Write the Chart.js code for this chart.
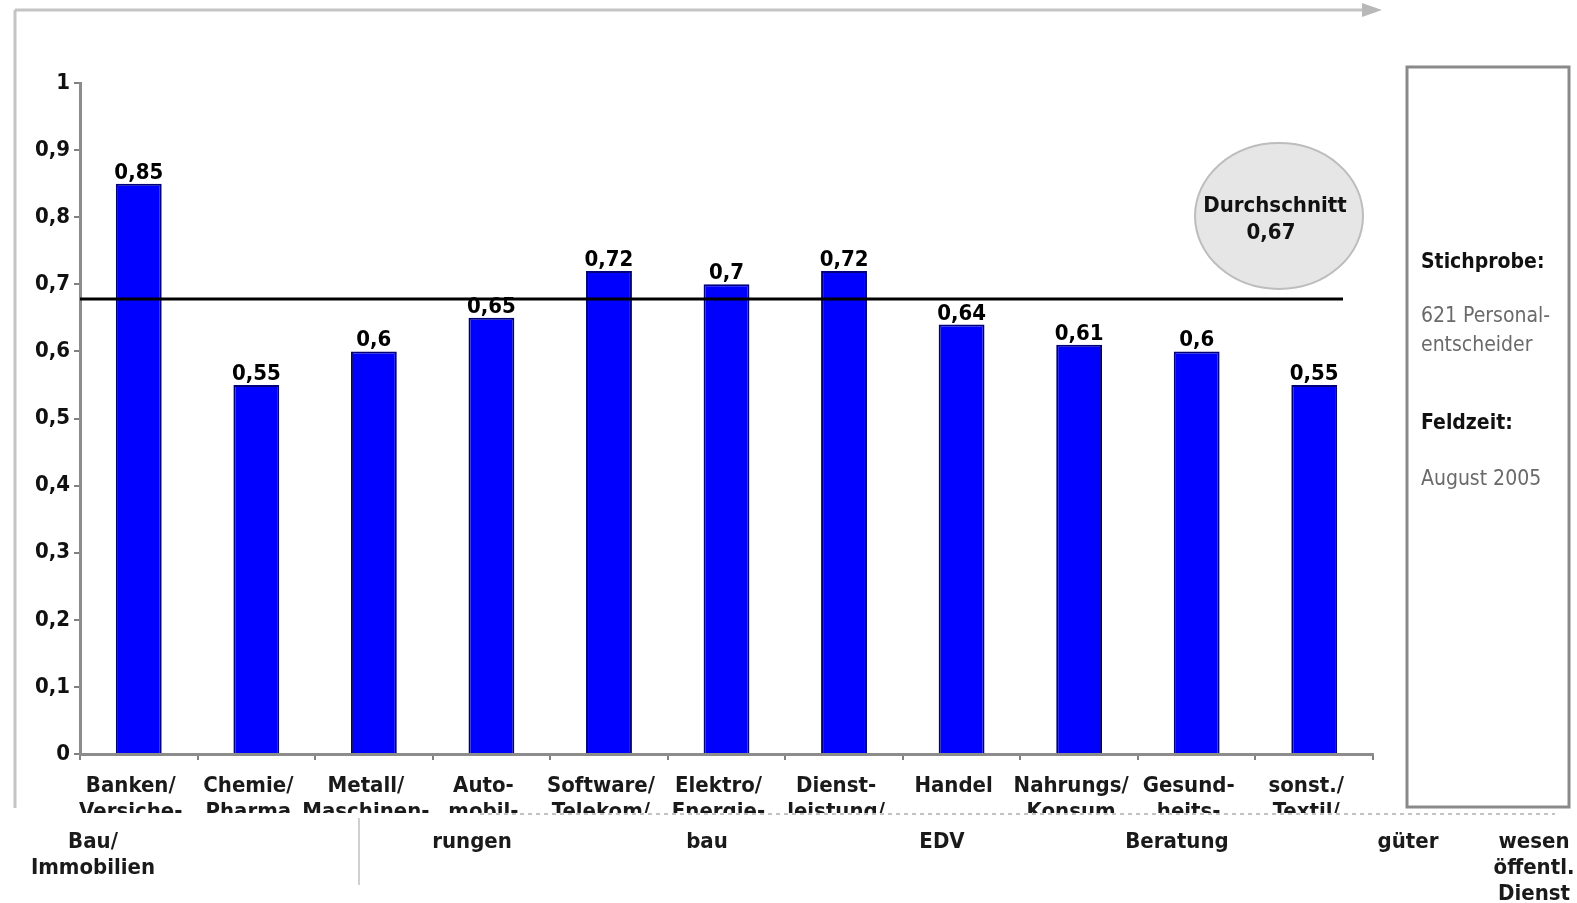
<!DOCTYPE html>
<html>
<head>
<meta charset="utf-8">
<script src="https://cdn.jsdelivr.net/npm/chart.js@4/dist/chart.umd.min.js"></script>
<style>
  html, body { margin: 0; padding: 0; background: #ffffff; }
  #wrap { position: relative; width: 1577px; height: 903px; }
</style>
</head>
<body>
<div id="wrap"><canvas id="c" width="1577" height="903"></canvas></div>
<script>
// ---- data ----
const categoryLine1 = ['Banken/', 'Chemie/', 'Metall/', 'Auto-', 'Software/', 'Elektro/', 'Dienst-', 'Handel', 'Nahrungs/', 'Gesund-', 'sonst./'];
const categoryLine2 = ['Versiche-', 'Pharma', 'Maschinen-', 'mobil-', 'Telekom/', 'Energie-', 'leistung/', '', 'Konsum', 'heits-', 'Textil/'];
const values = [0.85, 0.55, 0.6, 0.65, 0.72, 0.7, 0.72, 0.64, 0.61, 0.6, 0.55];
const averageLine = [0.678];
const averageText = ['Durchschnitt', '0,67'];
const yTickLabels = ['0', '0,1', '0,2', '0,3', '0,4', '0,5', '0,6', '0,7', '0,8', '0,9', '1'];
const overflowLabels = [['Bau/', 'Immobilien'], ['rungen'], ['bau'], ['EDV'], ['Beratung'], ['güter'], ['wesen', 'öffentl.', 'Dienst']];
const infoLines = [
  { text: 'Stichprobe:', bold: true },
  { text: '621 Personal-', bold: false },
  { text: 'entscheider', bold: false },
  { text: 'Feldzeit:', bold: true },
  { text: 'August 2005', bold: false }
];

// ---- layout (not data) ----
const overflowX = [93, 472, 707, 942, 1177, 1408, 1534];
const infoY = [268, 322, 351, 429, 485];
const FONT = "'Liberation Sans Narrow', 'DejaVu Sans Condensed', 'Liberation Sans', Arial, sans-serif";

const fmt = v => String(v).replace('.', ',');

const decor = {
  id: 'decor',
  beforeDraw(chart) {
    const ctx = chart.ctx;
    ctx.save();
    ctx.strokeStyle = '#c4c4c4';
    ctx.lineWidth = 3;
    ctx.beginPath();
    ctx.moveTo(15, 10); ctx.lineTo(1366, 10);
    ctx.moveTo(15, 10); ctx.lineTo(15, 808);
    ctx.stroke();
    ctx.fillStyle = '#b8b8b8';
    ctx.beginPath();
    ctx.moveTo(1382, 10); ctx.lineTo(1362, 3); ctx.lineTo(1362, 17); ctx.closePath();
    ctx.fill();
    ctx.strokeStyle = '#8a8a8a';
    ctx.lineWidth = 3;
    ctx.strokeRect(1407, 67, 162, 740);
    ctx.restore();
  },
  afterDatasetsDraw(chart) {
    const ctx = chart.ctx;
    const xs = chart.scales.x, ys = chart.scales.y;
    const meta = chart.getDatasetMeta(0);
    ctx.save();
    // average line
    const ay = ys.getPixelForValue(averageLine[0]);
    ctx.strokeStyle = '#000';
    ctx.lineWidth = 3;
    ctx.beginPath();
    ctx.moveTo(chart.chartArea.left, ay);
    ctx.lineTo(chart.chartArea.right - 30, ay);
    ctx.stroke();

    // value labels
    ctx.fillStyle = '#000';
    ctx.font = 'bold 22px ' + FONT;
    ctx.textAlign = 'center';
    ctx.textBaseline = 'alphabetic';
    meta.data.forEach((bar, i) => {
      ctx.fillText(fmt(values[i]), bar.x, bar.y - 5);
    });

    // category labels row 1
    ctx.fillStyle = '#1a1a1a';
    categoryLine1.forEach((t, i) => {
      ctx.fillText(t, xs.getPixelForValue(i) - 8, 792);
    });
    // category labels row 2 (clipped)
    ctx.save();
    ctx.beginPath();
    ctx.rect(0, 795, 1577, 18);
    ctx.clip();
    categoryLine2.forEach((t, i) => {
      ctx.fillText(t, xs.getPixelForValue(i) - 8, 818);
    });
    ctx.restore();

    // dotted strip
    ctx.strokeStyle = '#b0b0b0';
    ctx.lineWidth = 1.5;
    ctx.setLineDash([4, 4]);
    ctx.beginPath();
    ctx.moveTo(480, 814); ctx.lineTo(1555, 814);
    ctx.stroke();
    ctx.setLineDash([]);

    // overflow row
    ctx.fillStyle = '#1a1a1a';
    overflowLabels.forEach((lines, i) => {
      lines.forEach((t, j) => {
        ctx.fillText(t, overflowX[i], 848 + j * 26);
      });
    });
    ctx.strokeStyle = '#d0d0d0';
    ctx.lineWidth = 2;
    ctx.beginPath();
    ctx.moveTo(359, 818); ctx.lineTo(359, 885);
    ctx.stroke();

    // ellipse
    ctx.fillStyle = '#e6e6e6';
    ctx.strokeStyle = '#bdbdbd';
    ctx.lineWidth = 2;
    ctx.beginPath();
    ctx.ellipse(1279, 216, 84, 73, 0, 0, Math.PI * 2);
    ctx.fill();
    ctx.stroke();
    ctx.fillStyle = '#111';
    ctx.font = 'bold 22px ' + FONT;
    ctx.fillText(averageText[0], 1275, 212);
    ctx.fillText(averageText[1], 1271, 239);

    // info text
    ctx.textAlign = 'left';
    infoLines.forEach((l, i) => {
      ctx.font = (l.bold ? 'bold ' : '') + '21px ' + FONT;
      ctx.fillStyle = l.bold ? '#111' : '#6a6a6a';
      ctx.fillText(l.text, 1421, infoY[i]);
    });
    ctx.restore();
  }
};

new Chart(document.getElementById('c'), {
  type: 'bar',
  data: {
    labels: categoryLine1,
    datasets: [{
      data: values,
      backgroundColor: '#0000ff',
      borderColor: '#00007a',
      borderWidth: 2,
      barPercentage: 0.39,
      categoryPercentage: 1.0
    }]
  },
  options: {
    responsive: false,
    animation: false,
    events: [],
    layout: { padding: { top: 83, right: 204, left: 0, bottom: 0 } },
    plugins: { legend: { display: false }, tooltip: { enabled: false } },
    scales: {
      x: {
        grid: { display: true, drawOnChartArea: false, drawTicks: true, tickLength: 6, color: '#808080', lineWidth: 2, offset: true },
        border: { display: true, color: '#8c8c8c', width: 3 },
        ticks: { display: false },
        afterFit: s => { s.height = 149; }
      },
      y: {
        min: 0, max: 1,
        ticks: {
          stepSize: 0.1,
          color: '#111',
          font: { family: FONT, size: 22, weight: 'bold' },
          padding: 4,
          callback: (v, i) => yTickLabels[i]
        },
        grid: { display: true, drawOnChartArea: false, drawTicks: true, tickLength: 6, color: '#808080', lineWidth: 2 },
        border: { display: true, color: '#8c8c8c', width: 3 },
        afterFit: s => { s.width = 80; }
      }
    }
  },
  plugins: [decor]
});
</script>
</body>
</html>
